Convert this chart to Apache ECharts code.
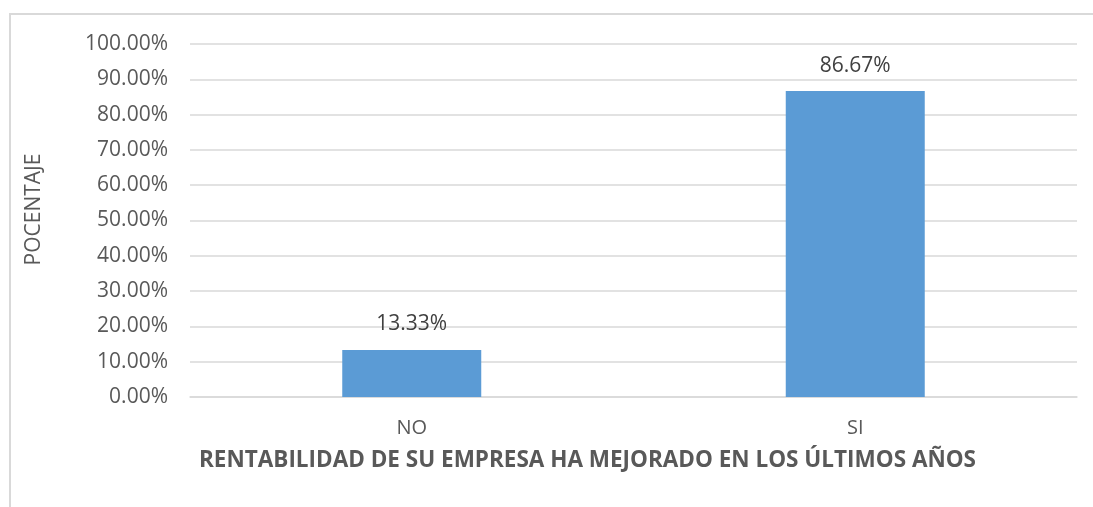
<!DOCTYPE html>
<html><head><meta charset="utf-8">
<script src="https://cdn.jsdelivr.net/npm/echarts@6/dist/echarts.min.js"></script>
<style>
html,body{margin:0;padding:0;background:#fff;overflow:hidden;}
#frame{position:absolute;left:9px;top:13px;width:1200px;height:600px;border:2px solid #d9d9d9;box-sizing:border-box;}
#c{position:absolute;left:0;top:0;width:1093px;height:507px;}
</style></head>
<body>
<div id="frame"></div>
<div id="c"></div>
<script>
const categories = ['NO', 'SI'];
const values = [13.33, 86.67];
const yTicks = [0, 10, 20, 30, 40, 50, 60, 70, 80, 90, 100];
const xTitle = 'RENTABILIDAD DE SU EMPRESA HA MEJORADO EN LOS ÚLTIMOS AÑOS';
const yTitle = 'POCENTAJE';

const FONT = '"Open Sans"';
const chart = echarts.init(document.getElementById('c'), null, {renderer:'canvas'});
chart.setOption({
  animation:false,
  grid:{left:190, right:16, top:44, bottom:110, containLabel:false},
  xAxis:{
    type:'category', data:categories,
    axisLine:{show:true, lineStyle:{color:'#d9d9d9', width:1.5}},
    axisTick:{show:false},
    axisLabel:{color:'#595959', fontSize:20, fontFamily:FONT, margin:21},
    name:xTitle, nameLocation:'middle', nameGap:52,
    nameTextStyle:{color:'#595959', fontSize:22.5, fontWeight:'bold', fontFamily:FONT, padding:[0,92,0,0]}
  },
  yAxis:{
    type:'value', min:yTicks[0], max:yTicks[yTicks.length-1], interval:10,
    axisLine:{show:false}, axisTick:{show:false},
    splitLine:{lineStyle:{color:'#d9d9d9', width:1.5}},
    axisLabel:{color:'#595959', fontSize:21, fontFamily:FONT, margin:22,
      formatter:v=>v.toFixed(2)+'%'},
    name:yTitle, nameLocation:'middle', nameGap:145, nameRotate:90,
    nameTextStyle:{color:'#595959', fontSize:21, fontFamily:FONT, padding:[0,0,0,22]}
  },
  series:[{
    type:'bar', data:values, barWidth:139,
    itemStyle:{color:'#5b9bd5'},
    label:{show:true, position:'top', distance:15, color:'#404040', fontSize:21, fontFamily:FONT,
      formatter:p=>p.value.toFixed(2)+'%'}
  }]
});
</script>
</body></html>
